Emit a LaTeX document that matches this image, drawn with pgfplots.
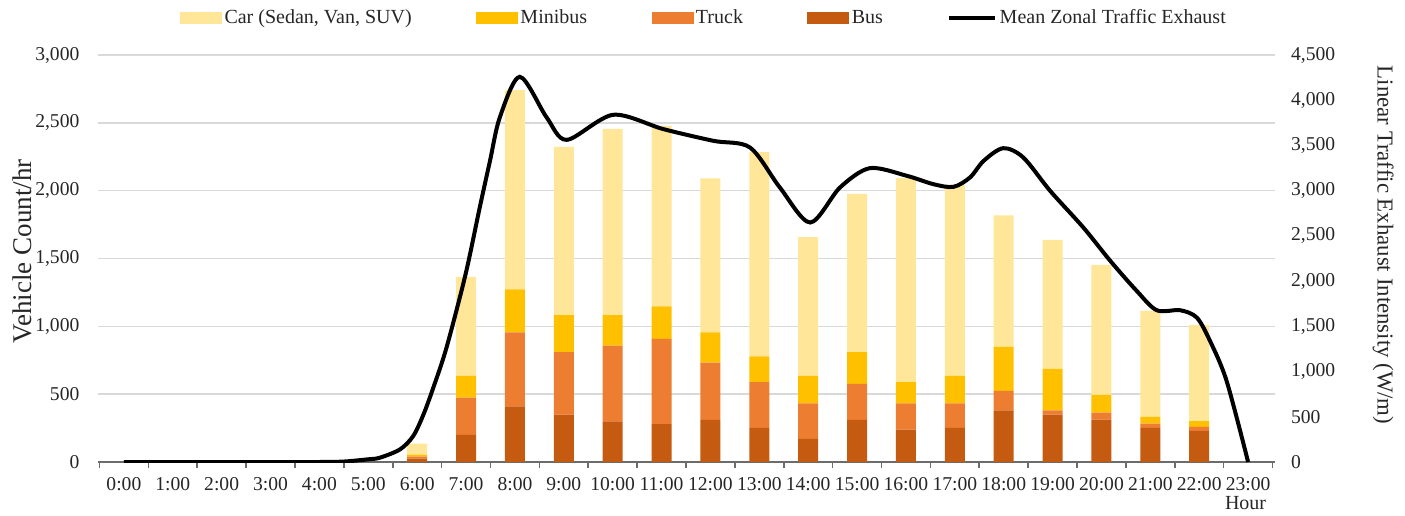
\documentclass[border=0pt]{standalone}
\usepackage{pgfplots}
\pgfplotsset{compat=1.18}
\usepackage{fontspec}
\setmainfont{Liberation Serif}
\definecolor{carc}{HTML}{FFE699}
\definecolor{minic}{HTML}{FFC000}
\definecolor{truckc}{HTML}{ED7D31}
\definecolor{busc}{HTML}{C55A11}
\definecolor{gridc}{HTML}{D9D9D9}
\pgfplotsset{
  boxlegend/.style={legend image code/.code={\fill[##1] (0pt,-3pt) rectangle (21pt,3pt);}},
  linelegend/.style={legend image code/.code={\draw[##1] (0pt,0pt) -- (23pt,0pt);}},
}
\begin{document}
\begin{tikzpicture}
\useasboundingbox (-49pt,-26.5pt) rectangle (653.5pt,231pt);
\begin{axis}[
  width=588.5pt, height=203.5pt, scale only axis,
  xmin=-0.53, xmax=23.55, ymin=0, ymax=3000,
  ybar stacked, bar width=10pt,
  axis x line*=bottom, axis y line*=left,
  y axis line style={draw=none},
  x axis line style={gray!85!black, line width=0.9pt},
  xtick={0,...,23},
  xticklabels={0:00,1:00,2:00,3:00,4:00,5:00,6:00,7:00,8:00,9:00,10:00,11:00,12:00,13:00,14:00,15:00,16:00,17:00,18:00,19:00,20:00,21:00,22:00,23:00},
  major x tick style={draw=none},
  minor xtick={-0.5,0.5,...,23.5},
  minor x tick style={gray!85!black, line width=0.8pt},
  minor tick length=3pt,
  tick align=outside,
  ytick={0,500,...,3000},
  major y tick style={draw=none},
  ymajorgrids, grid style={gridc, line width=0.8pt},
  /pgf/number format/assume math mode=true,
  /pgf/number format/1000 sep={,},
  scaled y ticks=false,
  tick label style={font=\fontsize{9.8}{11.5}\selectfont, text=black!85},
  yticklabel style={xshift=-1.5pt},
  ylabel={Vehicle Count/hr},
  ylabel style={at={(axis description cs:-0.064,0.518)}, anchor=center, font=\fontsize{13.5}{16}\selectfont, text=black!85},
  xlabel={Hour},
  xlabel style={at={(axis description cs:0.975,-0.10)}, anchor=center, font=\fontsize{10}{12}\selectfont, text=black!85},
  reverse legend,
  legend style={at={(axis description cs:0.515,1.091)}, anchor=center, draw=none, fill=none,
    legend columns=5, font=\fontsize{10}{12}\selectfont, text=black!85,
    /tikz/every even column/.append style={column sep=31pt},
    nodes={inner xsep=1.2pt}},
  legend cell align=left,
]
\addlegendimage{linelegend, black, line width=2pt}
\addlegendentry{Mean Zonal Traffic Exhaust}
\addplot[boxlegend, fill=busc, draw=none] coordinates {
(6,25)(7,200)(8,410)(9,349)(10,300)(11,280)(12,310)(13,251)(14,170)(15,310)(16,238)(17,251)(18,381)(19,349)(20,312)(21,251)(22,229)};
\addlegendentry{Bus}
\addplot[boxlegend, fill=truckc, draw=none] coordinates {
(6,15)(7,275)(8,546)(9,460)(10,558)(11,627)(12,423)(13,337)(14,263)(15,265)(16,195)(17,182)(18,143)(19,32)(20,52)(21,32)(22,29)};
\addlegendentry{Truck}
\addplot[boxlegend, fill=minic, draw=none] coordinates {
(6,15)(7,160)(8,317)(9,273)(10,224)(11,241)(12,223)(13,191)(14,201)(15,234)(16,155)(17,201)(18,324)(19,305)(20,130)(21,49)(22,44)};
\addlegendentry{Minibus}
\addplot[boxlegend, fill=carc, draw=none] coordinates {
(6,80)(7,730)(8,1468)(9,1241)(10,1374)(11,1330)(12,1134)(13,1505)(14,1023)(15,1168)(16,1504)(17,1409)(18,969)(19,951)(20,959)(21,782)(22,708)};
\addlegendentry{Car (Sedan, Van, SUV)}
\end{axis}
\begin{axis}[
  width=588.5pt, height=203.5pt, scale only axis,
  xmin=-0.53, xmax=23.55, ymin=0, ymax=4500,
  axis x line=none, axis y line*=right,
  y axis line style={draw=none},
  ytick={0,500,...,4500},
  major y tick style={draw=none},
  /pgf/number format/assume math mode=true,
  /pgf/number format/1000 sep={,},
  scaled y ticks=false,
  tick label style={font=\fontsize{9.8}{11.5}\selectfont, text=black!85},
  yticklabel style={xshift=4.5pt},
  ylabel={Linear Traffic Exhaust Intensity (W/m)},
  ylabel style={rotate=180, at={(axis description cs:1.092,0.533)}, anchor=center, font=\fontsize{11.4}{13}\selectfont, text=black!85},
]
\addplot[black, line width=2pt, smooth, tension=0.5] coordinates {
(0,0)(1,0)(2,0)(3,0)(4,0)(4.5,5)(5,30)(5.24,48)(5.65,140)(5.92,288)(6.13,527)(6.33,822)(6.6,1265)(6.99,2076)(7.28,2814)(7.49,3330)(7.69,3809)(8.1,4259)(8.65,3809)(9.06,3562)(10.01,3839)(11.04,3680)(12.06,3551)(12.81,3477)(13.42,3035)(14.04,2648)(14.65,3035)(15.26,3249)(16.02,3164)(16.56,3072)(16.97,3042)(17.31,3146)(17.59,3330)(17.99,3470)(18.4,3367)(18.95,2998)(19.63,2592)(20.18,2224)(20.72,1892)(21.13,1678)(21.61,1678)(21.95,1597)(22.22,1339)(22.56,896)(23,0)};
\end{axis}
\end{tikzpicture}
\end{document}
